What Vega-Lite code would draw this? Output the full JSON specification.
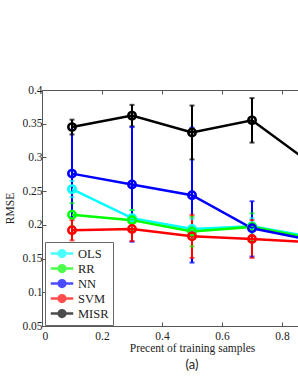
{
  "$schema": "https://vega.github.io/schema/vega-lite/v6.json",
  "width": 256,
  "height": 236,
  "autosize": {"type": "none"},
  "padding": {"left": 42, "top": 90, "right": 0, "bottom": 59},
  "background": "white",
  "config": {
    "view": {"stroke": null},
    "axis": {
      "labelFont": "Liberation Serif", "titleFont": "Liberation Serif",
      "labelFontSize": 11.5, "titleFontSize": 11.5, "titleFontWeight": "normal",
      "labelColor": "#222", "titleColor": "#222",
      "domainColor": "#555", "tickColor": "#555", "grid": false,
      "tickSize": -4, "labelOverlap": false
    },
    "axisX": {"labelPadding": 8},
    "axisY": {"labelPadding": 4},
    "legend": {
      "orient": "none", "legendX": 3, "legendY": 152,
      "strokeColor": "#666", "fillColor": "white", "padding": 4,
      "labelFont": "Liberation Serif", "labelFontSize": 12.5, "labelColor": "#222",
      "symbolType": "M-1.5,0L1.5,0M0.45,0A0.45,0.45,0,1,1,-0.45,0A0.45,0.45,0,1,1,0.45,0",
      "symbolSize": 225, "symbolStrokeWidth": 2.5, "symbolFillColor": "transparent",
      "symbolOffset": 4, "rowPadding": 0, "labelOffset": 7, "clipHeight": 15
    }
  },
  "title": {"text": "(a)", "orient": "bottom", "font": "Lato", "fontSize": 13, "fontWeight": "normal", "color": "#222", "dx": 22, "offset": 5},
  "data": {"values": [
    {"method": "OLS", "x": 0.1, "y": 0.253, "lo": 0.241, "hi": 0.265},
    {"method": "OLS", "x": 0.3, "y": 0.210, "lo": 0.198, "hi": 0.222},
    {"method": "OLS", "x": 0.5, "y": 0.194, "lo": 0.179, "hi": 0.209},
    {"method": "OLS", "x": 0.7, "y": 0.198, "lo": 0.186, "hi": 0.210},
    {"method": "OLS", "x": 0.9, "y": 0.182, "lo": 0.172, "hi": 0.192},
    {"method": "RR", "x": 0.1, "y": 0.215, "lo": 0.198, "hi": 0.232},
    {"method": "RR", "x": 0.3, "y": 0.207, "lo": 0.192, "hi": 0.222},
    {"method": "RR", "x": 0.5, "y": 0.190, "lo": 0.168, "hi": 0.212},
    {"method": "RR", "x": 0.7, "y": 0.197, "lo": 0.177, "hi": 0.217},
    {"method": "RR", "x": 0.9, "y": 0.180, "lo": 0.165, "hi": 0.195},
    {"method": "NN", "x": 0.1, "y": 0.276, "lo": 0.211, "hi": 0.341},
    {"method": "NN", "x": 0.3, "y": 0.260, "lo": 0.175, "hi": 0.345},
    {"method": "NN", "x": 0.5, "y": 0.244, "lo": 0.144, "hi": 0.344},
    {"method": "NN", "x": 0.7, "y": 0.195, "lo": 0.153, "hi": 0.235},
    {"method": "NN", "x": 0.9, "y": 0.177, "lo": 0.147, "hi": 0.207},
    {"method": "SVM", "x": 0.1, "y": 0.192, "lo": 0.177, "hi": 0.207},
    {"method": "SVM", "x": 0.3, "y": 0.194, "lo": 0.176, "hi": 0.212},
    {"method": "SVM", "x": 0.5, "y": 0.183, "lo": 0.151, "hi": 0.215},
    {"method": "SVM", "x": 0.7, "y": 0.179, "lo": 0.151, "hi": 0.207},
    {"method": "SVM", "x": 0.9, "y": 0.174, "lo": 0.154, "hi": 0.194},
    {"method": "MISR", "x": 0.1, "y": 0.345, "lo": 0.334, "hi": 0.356},
    {"method": "MISR", "x": 0.3, "y": 0.362, "lo": 0.346, "hi": 0.378},
    {"method": "MISR", "x": 0.5, "y": 0.337, "lo": 0.297, "hi": 0.377},
    {"method": "MISR", "x": 0.7, "y": 0.355, "lo": 0.322, "hi": 0.388},
    {"method": "MISR", "x": 0.9, "y": 0.290, "lo": 0.260, "hi": 0.320}
  ]},
  "encoding": {
    "color": {
      "field": "method", "type": "nominal", "title": null,
      "scale": {"domain": ["OLS", "RR", "NN", "SVM", "MISR"], "range": ["#00FFFF", "#00FF00", "#0000FF", "#FF0000", "#000000"]}
    }
  },
  "resolve": {"axis": {"x": "independent"}},
  "layer": [
    {
      "mark": {"type": "rule", "strokeWidth": 2, "clip": true},
      "encoding": {
        "x": {"field": "x", "type": "quantitative", "scale": {"domain": [0, 0.8533], "nice": false},
              "axis": {"orient": "bottom", "values": [0, 0.2, 0.4, 0.6, 0.8], "format": "~g", "labelOverlap": false, "title": "Precent of training samples", "titleX": 150, "titlePadding": 1}},
        "y": {"field": "lo", "type": "quantitative", "title": "RMSE", "scale": {"domain": [0.05, 0.4], "nice": false, "zero": false},
              "axis": {"values": [0.05, 0.1, 0.15, 0.2, 0.25, 0.3, 0.35, 0.4], "format": "~g", "labelOverlap": false, "titlePadding": 6}},
        "y2": {"field": "hi"}
      }
    },
    {
      "mark": {"type": "tick", "thickness": 2, "size": 5, "orient": "horizontal", "clip": true},
      "encoding": {
        "x": {"field": "x", "type": "quantitative", "scale": {"domain": [0, 0.8533], "nice": false}, "axis": null},
        "y": {"field": "lo", "type": "quantitative", "title": "RMSE", "scale": {"domain": [0.05, 0.4], "nice": false, "zero": false},
              "axis": {"values": [0.05, 0.1, 0.15, 0.2, 0.25, 0.3, 0.35, 0.4], "format": "~g", "labelOverlap": false, "titlePadding": 6}}
      }
    },
    {
      "mark": {"type": "tick", "thickness": 2, "size": 5, "orient": "horizontal", "clip": true},
      "encoding": {
        "x": {"field": "x", "type": "quantitative", "scale": {"domain": [0, 0.8533], "nice": false}, "axis": null},
        "y": {"field": "hi", "type": "quantitative", "title": "RMSE", "scale": {"domain": [0.05, 0.4], "nice": false, "zero": false},
              "axis": {"values": [0.05, 0.1, 0.15, 0.2, 0.25, 0.3, 0.35, 0.4], "format": "~g", "labelOverlap": false, "titlePadding": 6}}
      }
    },
    {
      "mark": {"type": "line", "strokeWidth": 2.5, "clip": true},
      "encoding": {
        "x": {"field": "x", "type": "quantitative", "scale": {"domain": [0, 0.8533], "nice": false}, "axis": null},
        "y": {"field": "y", "type": "quantitative", "title": "RMSE", "scale": {"domain": [0.05, 0.4], "nice": false, "zero": false},
              "axis": {"values": [0.05, 0.1, 0.15, 0.2, 0.25, 0.3, 0.35, 0.4], "format": "~g", "labelOverlap": false, "titlePadding": 6}}
      }
    },
    {
      "mark": {"type": "point", "shape": "circle", "filled": false, "strokeWidth": 2.5, "size": 55, "opacity": 1, "clip": true},
      "encoding": {
        "x": {"field": "x", "type": "quantitative", "scale": {"domain": [0, 0.8533], "nice": false},
              "axis": {"orient": "top", "labels": false, "title": null, "values": [0, 0.2, 0.4, 0.6, 0.8]}},
        "y": {"field": "y", "type": "quantitative", "title": "RMSE", "scale": {"domain": [0.05, 0.4], "nice": false, "zero": false},
              "axis": {"values": [0.05, 0.1, 0.15, 0.2, 0.25, 0.3, 0.35, 0.4], "format": "~g", "labelOverlap": false, "titlePadding": 6}}
      }
    }
  ]
}
